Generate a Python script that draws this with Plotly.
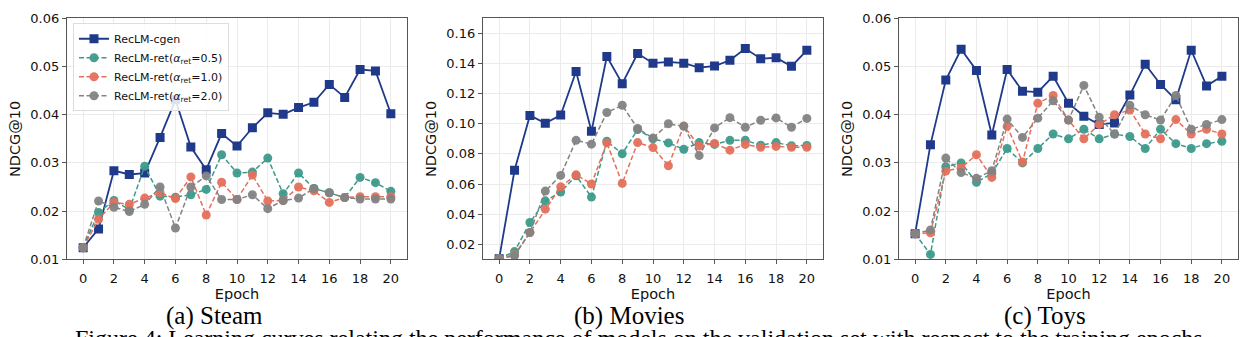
import plotly.graph_objects as go

epochs = list(range(21))

# (a) Steam
steam_cgen = [0.0124, 0.0163, 0.0284, 0.0276, 0.0279, 0.0353, 0.0431, 0.0333, 0.0286, 0.0361, 0.0335,
              0.0373, 0.0404, 0.0401, 0.0415, 0.0426, 0.0463, 0.0436, 0.0494, 0.0491, 0.0402]
steam_r05 = [0.0124, 0.0197, 0.0222, 0.0203, 0.0293, 0.0231, 0.0229, 0.0234, 0.0245, 0.0317, 0.0279,
             0.0281, 0.0310, 0.0236, 0.0279, 0.0247, 0.0238, 0.0228, 0.0270, 0.0259, 0.0241]
steam_r10 = [0.0124, 0.0183, 0.0218, 0.0214, 0.0227, 0.0238, 0.0226, 0.0271, 0.0192, 0.0260, 0.0224,
             0.0275, 0.0221, 0.0222, 0.0250, 0.0242, 0.0218, 0.0228, 0.0230, 0.0230, 0.0230]
steam_r20 = [0.0124, 0.0221, 0.0208, 0.0199, 0.0214, 0.0250, 0.0165, 0.0250, 0.0273, 0.0224, 0.0224,
             0.0234, 0.0205, 0.0222, 0.0227, 0.0247, 0.0238, 0.0228, 0.0225, 0.0225, 0.0225]

# (b) Movies
movies_cgen = [0.0104, 0.0691, 0.1056, 0.1003, 0.1058, 0.1348, 0.0950, 0.1447, 0.1267, 0.1467, 0.1403,
               0.1411, 0.1403, 0.1373, 0.1384, 0.1422, 0.1500, 0.1433, 0.1439, 0.1382, 0.1488]
movies_r05 = [0.0104, 0.0151, 0.0344, 0.0488, 0.0547, 0.0655, 0.0513, 0.0884, 0.0801, 0.0962, 0.0901,
              0.0873, 0.0831, 0.0875, 0.0863, 0.0890, 0.0890, 0.0858, 0.0875, 0.0854, 0.0856]
movies_r10 = [0.0104, 0.0130, 0.0278, 0.0433, 0.0581, 0.0661, 0.0600, 0.0873, 0.0604, 0.0875, 0.0842,
              0.0721, 0.0986, 0.0852, 0.0869, 0.0825, 0.0863, 0.0844, 0.0850, 0.0844, 0.0844]
movies_r20 = [0.0104, 0.0123, 0.0278, 0.0553, 0.0657, 0.0890, 0.0865, 0.1075, 0.1123, 0.0969, 0.0905,
              0.1000, 0.0983, 0.0789, 0.0973, 0.1041, 0.0977, 0.1024, 0.1039, 0.0977, 0.1036]

# (c) Toys
toys_cgen = [0.0153, 0.0338, 0.0472, 0.0536, 0.0492, 0.0358, 0.0494, 0.0449, 0.0447, 0.0480, 0.0424,
             0.0397, 0.0380, 0.0383, 0.0441, 0.0505, 0.0463, 0.0431, 0.0534, 0.0460, 0.0480]
toys_r05 = [0.0153, 0.0110, 0.0292, 0.0300, 0.0260, 0.0278, 0.0330, 0.0300, 0.0330, 0.0360, 0.0350,
            0.0370, 0.0350, 0.0360, 0.0355, 0.0330, 0.0370, 0.0340, 0.0330, 0.0340, 0.0345]
toys_r10 = [0.0153, 0.0155, 0.0283, 0.0290, 0.0317, 0.0270, 0.0376, 0.0302, 0.0424, 0.0440, 0.0389,
            0.0350, 0.0380, 0.0400, 0.0410, 0.0360, 0.0350, 0.0390, 0.0360, 0.0370, 0.0360]
toys_r20 = [0.0153, 0.0161, 0.0310, 0.0280, 0.0268, 0.0284, 0.0391, 0.0353, 0.0393, 0.0429, 0.0389,
            0.0461, 0.0395, 0.0360, 0.0420, 0.0400, 0.0389, 0.0440, 0.0370, 0.0380, 0.0390]

series_names = ["RecLM-cgen",
                "RecLM-ret(<i>α</i><sub>ret</sub>=0.5)",
                "RecLM-ret(<i>α</i><sub>ret</sub>=1.0)",
                "RecLM-ret(<i>α</i><sub>ret</sub>=2.0)"]
colors = ["#1f3a8a", "#3d9a8b", "#e4705c", "#838383"]
panel_titles = ["(a) Steam", "(b) Movies", "(c) Toys"]
caption = ("Figure 4: Learning curves relating the performance of models on the validation set "
           "with respect to the training epochs.")
xtick_vals = list(range(0, 21, 2))

panels = [
    [steam_cgen, steam_r05, steam_r10, steam_r20],
    [movies_cgen, movies_r05, movies_r10, movies_r20],
    [toys_cgen, toys_r05, toys_r10, toys_r20],
]
y_ranges = [[0.01, 0.06], [0.01, 0.17], [0.01, 0.06]]
y_dticks = [0.01, 0.02, 0.01]

W, H = 1245, 337
x_px = [(67, 407), (483, 823), (899, 1238)]
y_px = (12, 264)
caption_cx = [214, 629, 1045]

fig = go.Figure()
for p, data in enumerate(panels):
    xa = "x" if p == 0 else f"x{p+1}"
    ya = "y" if p == 0 else f"y{p+1}"
    for s, vals in enumerate(data):
        if s == 0:
            line = dict(color=colors[s], width=1.8)
            marker = dict(symbol="square", size=9, color=colors[s])
        else:
            line = dict(color=colors[s], width=1.5, dash="5px,2.5px")
            marker = dict(symbol="circle", size=9, color=colors[s], opacity=0.95)
        fig.add_trace(go.Scatter(
            x=epochs, y=vals, mode="lines+markers", name=series_names[s],
            line=line, marker=marker, xaxis=xa, yaxis=ya,
            showlegend=(p == 0), legendgroup=str(s)))

axis_common = dict(showline=True, linecolor="#555555", linewidth=1.3, mirror=True,
                   showgrid=True, gridcolor="#ebebeb", gridwidth=1, zeroline=False,
                   ticks="outside", ticklen=4, tickcolor="#555555", tickwidth=1,
                   tickfont=dict(family="DejaVu Sans", size=13, color="#111111"))

layout = dict(width=W, height=H, margin=dict(l=0, r=0, t=0, b=0),
              paper_bgcolor="white", plot_bgcolor="white", showlegend=True,
              legend=dict(x=73 / W, y=1 - 17 / H, xanchor="left", yanchor="top",
                          bgcolor="rgba(255,255,255,0.85)", bordercolor="#dddddd", borderwidth=1,
                          font=dict(family="DejaVu Sans", size=11, color="#111111"),
                          tracegroupgap=0, itemwidth=30))
annotations = []
for p in range(3):
    xk = "xaxis" if p == 0 else f"xaxis{p+1}"
    yk = "yaxis" if p == 0 else f"yaxis{p+1}"
    xa_anchor = "y" if p == 0 else f"y{p+1}"
    ya_anchor = "x" if p == 0 else f"x{p+1}"
    layout[xk] = dict(axis_common, domain=[x_px[p][0] / W, x_px[p][1] / W], range=[-1.05, 21.05],
                      tickvals=xtick_vals, anchor=xa_anchor, ticklabelstandoff=3,
                      title=dict(text="Epoch", standoff=3,
                                 font=dict(family="DejaVu Sans", size=14.5, color="#111111")))
    layout[yk] = dict(axis_common, domain=[1 - y_px[1] / H, 1 - y_px[0] / H], range=y_ranges[p],
                      dtick=y_dticks[p], tick0=0, tickformat=".2f", anchor=ya_anchor,
                      title=dict(text="NDCG@10", standoff=6,
                                 font=dict(family="DejaVu Sans", size=14.5, color="#111111")))
    annotations.append(dict(text=panel_titles[p], x=caption_cx[p] / W, y=1 - 323 / H,
                            xref="paper", yref="paper", xanchor="center", yanchor="middle",
                            showarrow=False,
                            font=dict(family="Liberation Serif", size=25, color="#000000")))
annotations.append(dict(text=caption, x=73 / W, y=1 - 346 / H, xref="paper", yref="paper",
                        xanchor="left", yanchor="middle", showarrow=False,
                        font=dict(family="Liberation Serif", size=24, color="#000000")))
layout["annotations"] = annotations
fig.update_layout(**layout)
fig.write_html("out.html")
